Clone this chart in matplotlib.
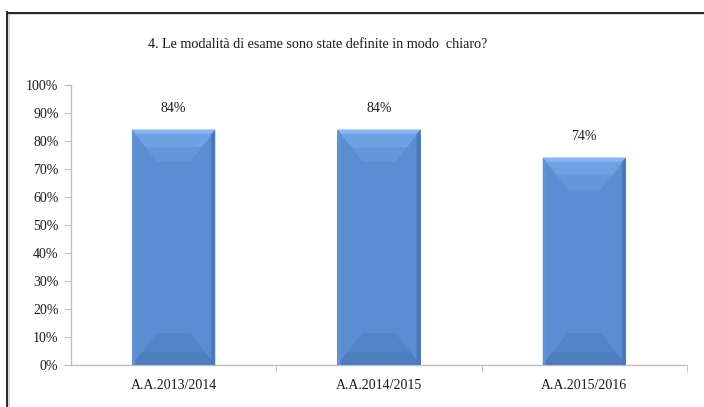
import matplotlib
matplotlib.use("Agg")
import matplotlib.pyplot as plt
from matplotlib.patches import Polygon
from matplotlib.lines import Line2D
from matplotlib.ticker import FuncFormatter, MultipleLocator, FixedLocator

categories = ["A.A.2013/2014", "A.A.2014/2015", "A.A.2015/2016"]
values = [0.84, 0.84, 0.74]
value_labels = ["84%", "84%", "74%"]
title = "4. Le modalità di esame sono state definite in modo  chiaro?"

plt.rcParams['font.family'] = ['Liberation Serif', 'DejaVu Serif']

W, H = 704, 407
fig = plt.figure(figsize=(W / 100, H / 100), dpi=100)
fig.patch.set_facecolor('white')

# outer frame (top and left visible)
fig.add_artist(Line2D([7 / W, 1.0], [1 - 13.5 / H, 1 - 13.5 / H], color='#D0D0D0', lw=1.2, transform=fig.transFigure))
fig.add_artist(Line2D([8.5 / W, 8.5 / W], [0, 1 - 13 / H], color='#D0D0D0', lw=1.2, transform=fig.transFigure))
fig.add_artist(Line2D([7 / W, 1.0], [1 - 12.5 / H, 1 - 12.5 / H], color='#262626', lw=1.4, transform=fig.transFigure))
fig.add_artist(Line2D([7.5 / W, 7.5 / W], [0, 1 - 12 / H], color='#262626', lw=1.4, transform=fig.transFigure))

ax = fig.add_axes([71 / W, 1 - 365 / H, (687 - 71) / W, (365 - 85) / H])
x = list(range(len(categories)))
bw = 0.405
bars = ax.bar(x, values, width=bw, color='#5A8ED2', edgecolor='none', zorder=2)

ax.set_xlim(-0.5, len(categories) - 0.5)
ax.set_ylim(0, 1.0)

# bevel decoration derived from bar geometry
px_x = 1.0 / ((687 - 71) / 3.0)   # data units per pixel (x)
px_y = 1.0 / 280.0                # data units per pixel (y)
for b in bars:
    x0 = b.get_x()
    x1 = x0 + b.get_width()
    top = b.get_height()
    d = 25 * px_x
    h = 32 * px_y
    # bottom bevel (slightly darker)
    ax.add_patch(Polygon([(x0, 0), (x1, 0), (x1 - d, h), (x0 + d, h)], closed=True,
                         facecolor='#5284C7', edgecolor='none', zorder=3))
    ax.add_patch(Polygon([(x0, 0), (x1, 0), (x1 - 0.4 * d, 0.4 * h), (x0 + 0.4 * d, 0.4 * h)], closed=True,
                         facecolor='#4D7DBF', edgecolor='none', zorder=3))
    # top bevel (lighter)
    ax.add_patch(Polygon([(x0, top), (x1, top), (x1 - d, top - h), (x0 + d, top - h)], closed=True,
                         facecolor='#6497DA', edgecolor='none', zorder=3))
    ax.add_patch(Polygon([(x0, top), (x1, top), (x1 - 0.55 * d, top - 0.55 * h), (x0 + 0.55 * d, top - 0.55 * h)], closed=True,
                         facecolor='#6EA1E2', edgecolor='none', zorder=3))
    ax.add_patch(Polygon([(x0, top), (x1, top), (x1 - 4 * px_x, top - 4 * px_y), (x0 + 4 * px_x, top - 4 * px_y)], closed=True,
                         facecolor='#88B8F0', edgecolor='none', zorder=4))
    # side edges
    ax.add_patch(Polygon([(x1 - 4 * px_x, 0), (x1, 0), (x1, top), (x1 - 4 * px_x, top - 4 * px_y)], closed=True,
                         facecolor='#4A79B9', edgecolor='none', zorder=4))
    ax.add_patch(Polygon([(x0, 0), (x0 + 3 * px_x, 0), (x0 + 3 * px_x, top - 3 * px_y), (x0, top)], closed=True,
                         facecolor='#6193D6', edgecolor='none', zorder=4))

for xi, v, lab in zip(x, values, value_labels):
    ax.annotate(lab, (xi, v), xytext=(0, 15.5), textcoords='offset points',
                ha='center', va='center', fontsize=10, color='#1a1a1a')

for s in ['top', 'right']:
    ax.spines[s].set_visible(False)
for s in ['left', 'bottom']:
    ax.spines[s].set_color('#BFBFBF')
    ax.spines[s].set_linewidth(1.0)

ax.yaxis.set_major_locator(MultipleLocator(0.1))
ax.yaxis.set_major_formatter(FuncFormatter(lambda v, p: f"{v * 100:.0f}%"))
ax.tick_params(axis='y', direction='out', length=5, color='#BFBFBF', labelsize=10, labelcolor='#1a1a1a', pad=4)

ax.set_xticks(x)
ax.set_xticklabels(categories)
ax.xaxis.set_minor_locator(FixedLocator([i + 0.5 for i in x]))
ax.tick_params(axis='x', which='major', length=0, labelsize=10, labelcolor='#1a1a1a', pad=10)
ax.tick_params(axis='x', which='minor', direction='out', length=5, color='#BFBFBF')

fig.text(318 / W, 1 - 45 / H, title, ha='center', va='center', fontsize=10.2, color='#1a1a1a')

fig.savefig('out.png', dpi=100, facecolor='white')
